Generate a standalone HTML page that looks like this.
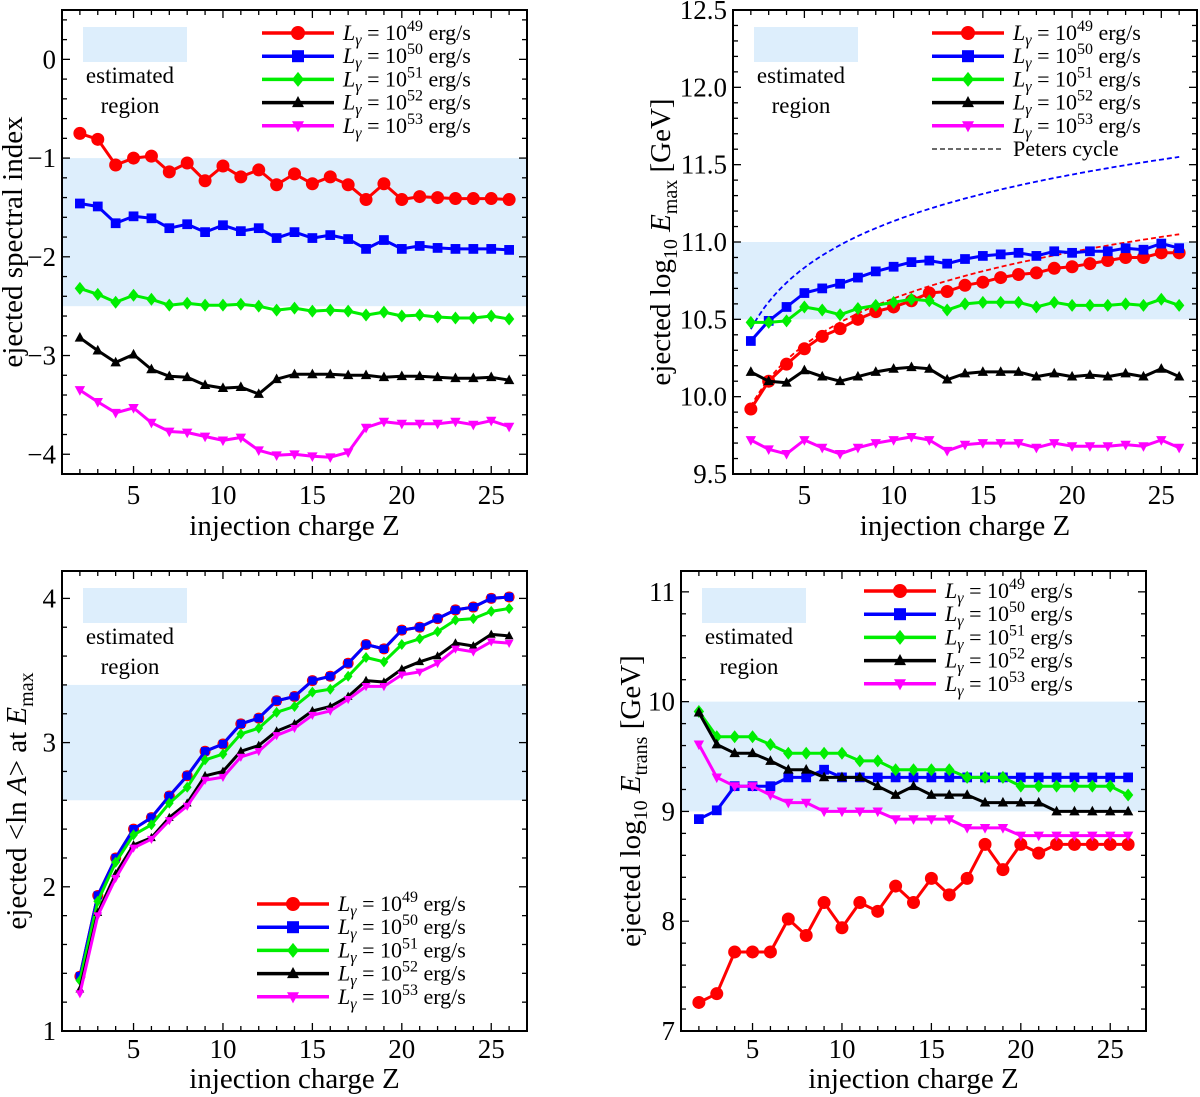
<!DOCTYPE html>
<html><head><meta charset="utf-8">
<style>
html,body{margin:0;padding:0;background:#fff;}
svg{display:block;font-family:"Liberation Serif","DejaVu Serif",serif;}
</style></head>
<body>
<svg id="fig" width="1200" height="1097" viewBox="0 0 1200 1097" xmlns="http://www.w3.org/2000/svg"></svg>
<script>
const zValues = [2,3,4,5,6,7,8,9,10,11,12,13,14,15,16,17,18,19,20,21,22,23,24,25,26];
const seriesLabels = ["49","50","51","52","53"];
// Panel A: spectral index
const idx49 = [-0.75,-0.81,-1.07,-1.0,-0.98,-1.14,-1.05,-1.23,-1.08,-1.19,-1.12,-1.27,-1.16,-1.26,-1.19,-1.27,-1.42,-1.26,-1.42,-1.39,-1.40,-1.41,-1.41,-1.41,-1.42];
const idx50 = [-1.46,-1.49,-1.66,-1.59,-1.61,-1.71,-1.67,-1.75,-1.68,-1.74,-1.71,-1.81,-1.75,-1.81,-1.78,-1.82,-1.92,-1.83,-1.92,-1.89,-1.91,-1.92,-1.92,-1.92,-1.93];
const idx51 = [-2.32,-2.38,-2.46,-2.39,-2.43,-2.49,-2.47,-2.49,-2.49,-2.48,-2.50,-2.54,-2.52,-2.55,-2.54,-2.55,-2.59,-2.56,-2.60,-2.59,-2.61,-2.62,-2.62,-2.60,-2.63];
const idx52 = [-2.82,-2.95,-3.07,-2.99,-3.14,-3.21,-3.22,-3.30,-3.33,-3.32,-3.39,-3.24,-3.19,-3.19,-3.19,-3.20,-3.20,-3.22,-3.21,-3.21,-3.22,-3.23,-3.23,-3.22,-3.25];
const idx53 = [-3.35,-3.47,-3.58,-3.53,-3.68,-3.77,-3.78,-3.82,-3.86,-3.83,-3.96,-4.01,-4.00,-4.02,-4.03,-3.98,-3.73,-3.67,-3.69,-3.69,-3.69,-3.67,-3.70,-3.66,-3.72];
// Panel B: log10 Emax
const emax49 = [9.92,10.10,10.21,10.31,10.39,10.44,10.50,10.55,10.58,10.62,10.67,10.68,10.72,10.74,10.77,10.79,10.80,10.83,10.84,10.86,10.88,10.90,10.90,10.93,10.93];
const emax50 = [10.36,10.49,10.58,10.67,10.70,10.73,10.77,10.81,10.84,10.87,10.88,10.86,10.89,10.91,10.92,10.93,10.91,10.94,10.93,10.94,10.94,10.96,10.95,10.99,10.96];
const emax51 = [10.48,10.48,10.49,10.58,10.56,10.53,10.57,10.59,10.61,10.63,10.62,10.56,10.60,10.61,10.61,10.61,10.58,10.61,10.59,10.59,10.59,10.60,10.59,10.63,10.59];
const emax52 = [10.16,10.10,10.09,10.17,10.13,10.10,10.13,10.16,10.18,10.19,10.18,10.11,10.15,10.16,10.16,10.16,10.13,10.15,10.13,10.14,10.13,10.15,10.13,10.18,10.13];
const emax53 = [9.72,9.66,9.63,9.72,9.67,9.63,9.67,9.70,9.72,9.74,9.72,9.65,9.69,9.70,9.70,9.70,9.67,9.70,9.68,9.68,9.68,9.69,9.68,9.72,9.67];
const petersBase = [9.635,10.135]; // log10 Emax at Z=1 for red, blue Peters cycle
// Panel C: <ln A>
const lnA49 = [1.38,1.94,2.20,2.40,2.48,2.63,2.77,2.94,2.99,3.13,3.17,3.29,3.32,3.43,3.46,3.55,3.68,3.65,3.78,3.80,3.86,3.92,3.94,4.00,4.01];
const lnA50 = [1.38,1.94,2.20,2.40,2.48,2.63,2.77,2.94,2.99,3.13,3.17,3.29,3.32,3.43,3.46,3.55,3.68,3.65,3.78,3.80,3.86,3.92,3.94,4.00,4.01];
const lnA51 = [1.35,1.90,2.17,2.36,2.43,2.58,2.69,2.88,2.92,3.06,3.10,3.21,3.25,3.35,3.37,3.46,3.59,3.56,3.68,3.72,3.77,3.85,3.86,3.91,3.93];
const lnA52 = [1.29,1.82,2.09,2.29,2.34,2.48,2.58,2.77,2.80,2.94,2.98,3.08,3.13,3.22,3.25,3.32,3.43,3.42,3.51,3.56,3.60,3.69,3.67,3.75,3.74];
const lnA53 = [1.26,1.80,2.06,2.27,2.33,2.46,2.56,2.74,2.76,2.90,2.94,3.05,3.10,3.19,3.22,3.30,3.39,3.39,3.47,3.49,3.55,3.65,3.63,3.70,3.69];
// Panel D: log10 Etrans
const et49 = [7.26,7.34,7.72,7.72,7.72,8.02,7.87,8.17,7.94,8.17,8.09,8.32,8.17,8.39,8.24,8.39,8.70,8.47,8.70,8.62,8.70,8.70,8.70,8.70,8.70];
const et50 = [8.93,9.01,9.23,9.23,9.23,9.31,9.31,9.38,9.31,9.31,9.31,9.31,9.31,9.31,9.31,9.31,9.31,9.31,9.31,9.31,9.31,9.31,9.31,9.31,9.31];
const et51 = [9.91,9.68,9.68,9.68,9.61,9.53,9.53,9.53,9.53,9.46,9.46,9.38,9.38,9.38,9.38,9.31,9.31,9.31,9.23,9.23,9.23,9.23,9.23,9.23,9.15];
const et52 = [9.90,9.61,9.53,9.53,9.46,9.38,9.38,9.31,9.31,9.31,9.23,9.15,9.23,9.15,9.15,9.15,9.08,9.08,9.08,9.08,9.00,9.00,9.00,9.00,9.00];
const et53 = [9.61,9.31,9.23,9.23,9.15,9.08,9.08,9.00,9.00,9.00,9.00,8.93,8.93,8.93,8.93,8.85,8.85,8.85,8.78,8.78,8.78,8.78,8.78,8.78,8.78];

const xTicks = [5,10,15,20,25];
const ticksA = [0,-1,-2,-3,-4];
const ticksB = [9.5,10.0,10.5,11.0,11.5,12.0,12.5];
const ticksC = [1,2,3,4];
const ticksD = [7,8,9,10,11];

const NS="http://www.w3.org/2000/svg";
const svg=document.getElementById('fig');
const colors=["#ff0000","#0000ff","#00ee00","#000000","#ff00ff"];
const markers=["circle","square","diamond","tri","tridown"];

function mk(tag,attrs,parent){const e=document.createElementNS(NS,tag);for(const k in attrs)e.setAttribute(k,attrs[k]);(parent||svg).appendChild(e);return e;}

function marker(g,type,x,y,s,color){
  let e;
  if(type==="circle") e=mk('circle',{cx:x,cy:y,r:s,fill:color},g);
  else if(type==="square") e=mk('rect',{x:x-s,y:y-s,width:2*s,height:2*s,fill:color},g);
  else if(type==="diamond") e=mk('polygon',{points:`${x},${y-s*1.25} ${x+s},${y} ${x},${y+s*1.25} ${x-s},${y}`,fill:color},g);
  else if(type==="tri") e=mk('polygon',{points:`${x},${y-s*1.1} ${x+s},${y+s*0.75} ${x-s},${y+s*0.75}`,fill:color},g);
  else e=mk('polygon',{points:`${x},${y+s*1.1} ${x+s},${y-s*0.75} ${x-s},${y-s*0.75}`,fill:color},g);
  return e;
}

function panel(cfg){
  const g=mk('g',{});
  
  
  const L=cfg.L,R=cfg.R,T=cfg.T,B=cfg.B;
  const sx=v=>L+(v-1)/(27-1)*(R-L);
  const sy=v=>B-(v-cfg.ymin)/(cfg.ymax-cfg.ymin)*(B-T);
  const band=mk('rect',{x:L,y:sy(cfg.band[1]),width:R-L,height:sy(cfg.band[0])-sy(cfg.band[1]),fill:"#ddeefc"},g);
  
  
  const sw=mk('rect',{x:L+21,y:T+cfg.swy,width:104,height:35,fill:"#ddeefc"},g);
  
  
  const t1=mk('text',{x:L+68,y:T+cfg.swy+56,'font-size':23,'text-anchor':'middle'},g);t1.textContent="estimated";
  
  
  const t2=mk('text',{x:L+68,y:T+cfg.swy+86,'font-size':23,'text-anchor':'middle'},g);t2.textContent="region";
  
  
  for(let z=1;z<=27;z++){
    const x=sx(z), len=(z%5===0)?8:5;
    mk('line',{x1:x,y1:B,x2:x,y2:B-len,stroke:"#000","stroke-width":1.3},g);
    mk('line',{x1:x,y1:T,x2:x,y2:T+len,stroke:"#000","stroke-width":1.3},g);
  }
  for(const v of xTicks){
    const t=mk('text',{x:sx(v),y:B+cfg.xlo,'font-size':27,'text-anchor':'middle'},g);t.textContent=String(v);
    
    
  }
  const n=Math.round((cfg.ymax-cfg.ymin)/cfg.minor);
  for(let i=0;i<=n+1;i++){
    const v=Math.ceil(cfg.ymin/cfg.minor-1e-6)*cfg.minor+i*cfg.minor;
    if(v>cfg.ymax+1e-6)break;
    const isMaj=cfg.yt.some(t=>Math.abs(t-v)<1e-6), len=isMaj?8:5, y=sy(v);
    mk('line',{x1:L,y1:y,x2:L+len,y2:y,stroke:"#000","stroke-width":1.3},g);
    mk('line',{x1:R,y1:y,x2:R-len,y2:y,stroke:"#000","stroke-width":1.3},g);
  }
  for(const v of cfg.yt){
    const t=mk('text',{x:L-6,y:sy(v)+9,'font-size':27,'text-anchor':'end'},g);
    t.textContent=cfg.fmt(v);
    
    
  }
  if(cfg.peters){
    const pcol=["#ff0000","#0000ff"];
    cfg.peters.forEach((b,i)=>{
      let d="";for(let z=2;z<=26.001;z+=0.25){d+=(d?"L":"M")+sx(z).toFixed(1)+","+sy(b+Math.log10(z)).toFixed(1);}
      const p=mk('path',{d:d,fill:"none",stroke:pcol[i],"stroke-width":1.8,"stroke-dasharray":"5,3"},g);
      
      
    });
  }
  cfg.series.forEach((ys,i)=>{
    const sg=mk('g',{},g);
    
    
    const pts=zValues.map((z,k)=>sx(z).toFixed(1)+","+sy(ys[k]).toFixed(1)).join(" ");
    mk('polyline',{points:pts,fill:"none",stroke:colors[i],"stroke-width":3,"stroke-linejoin":"round"},sg);
    const ms=[cfg.ms,cfg.ms*0.75,cfg.ms*0.8,cfg.ms*0.8,cfg.ms*0.8][i];
    zValues.forEach((z,k)=>{
      const m=marker(sg,markers[i],sx(z),sy(ys[k]),ms,colors[i]);
      
      
    });
  });
  mk('rect',{x:L,y:T,width:R-L,height:B-T,fill:"none",stroke:"#000","stroke-width":2},g);
  const lg=mk('g',{},g);
  
  
  seriesLabels.forEach((lab,i)=>{
    const y=cfg.legY+i*23.2, x0=cfg.legX;
    const row=mk('g',{},lg);
    
    
    mk('line',{x1:x0,y1:y,x2:x0+72,y2:y,stroke:colors[i],"stroke-width":3.5},row);
    marker(row,markers[i],x0+36,y,i===0?7:6,colors[i]);
    const t=mk('text',{x:x0+81,y:y+7,'font-size':22},row);
    t.innerHTML='<tspan font-style="italic">L</tspan><tspan font-style="italic" font-size="16" dy="5">γ</tspan><tspan dy="-5"> = 10</tspan><tspan font-size="16" dy="-9">'+lab+'</tspan><tspan dy="9"> erg/s</tspan>';
  });
  if(cfg.peters){
    const y=cfg.legY+5*23.2;
    const row=mk('g',{},lg);
    
    
    mk('line',{x1:cfg.legX,y1:y,x2:cfg.legX+72,y2:y,stroke:"#555","stroke-width":1.8,"stroke-dasharray":"5,3"},row);
    const t=mk('text',{x:cfg.legX+81,y:y+7,'font-size':22},row);t.textContent="Peters cycle";
  }
  const xt=mk('text',{x:(L+R)/2,y:B+cfg.xto,'font-size':29,'text-anchor':'middle'},g);
  xt.textContent="injection charge Z";
  
  
  const cy=(T+B)/2;
  const yt=mk('text',{x:cfg.ytx,y:cy,'font-size':29,'text-anchor':'middle',transform:`rotate(-90 ${cfg.ytx} ${cy})`},g);
  yt.innerHTML=cfg.ytitle;
  
  
}
const minus=v=>(v<0?"\u2212"+Math.abs(v):String(v));
panel({name:'panel-spectral-index',L:62,R:527,T:10,B:474,ymin:-4.2,ymax:0.5,minor:0.2,yt:ticksA,fmt:minus,
  band:[-2.5,-1],swy:17,series:[idx49,idx50,idx51,idx52,idx53],ms:6.5,legX:262,legY:33,ytx:22,xlo:30,xto:61,
  ytitle:'ejected spectral index'});
panel({name:'panel-emax',L:733,R:1197,T:10,B:474,ymin:9.5,ymax:12.5,minor:0.1,yt:ticksB,fmt:v=>v.toFixed(1),
  band:[10.5,11.0],swy:17,series:[emax49,emax50,emax51,emax52,emax53],ms:6.5,legX:932,legY:33,ytx:670,xlo:30,xto:61,peters:petersBase,
  ytitle:'ejected log<tspan font-size="20" dy="7">10</tspan><tspan dy="-7"> </tspan><tspan font-style="italic">E</tspan><tspan font-size="20" dy="7">max</tspan><tspan dy="-7"> [GeV]</tspan>'});
panel({name:'panel-lnA',L:62,R:527,T:571,B:1031,ymin:1,ymax:4.19,minor:0.2,yt:ticksC,fmt:v=>String(v),
  band:[2.6,3.4],swy:17,series:[lnA49,lnA50,lnA51,lnA52,lnA53],ms:5.5,legX:257,legY:904,ytx:26,xlo:27,xto:57,
  ytitle:'ejected &lt;ln <tspan font-style="italic">A</tspan>&gt; at <tspan font-style="italic">E</tspan><tspan font-size="20" dy="7">max</tspan>'});
panel({name:'panel-etrans',L:681,R:1146,T:571,B:1031,ymin:7,ymax:11.19,minor:0.2,yt:ticksD,fmt:v=>String(v),
  band:[9,10],swy:17,series:[et49,et50,et51,et52,et53],ms:6.5,legX:864,legY:591,ytx:640,xlo:27,xto:57,
  ytitle:'ejected log<tspan font-size="20" dy="7">10</tspan><tspan dy="-7"> </tspan><tspan font-style="italic">E</tspan><tspan font-size="20" dy="7">trans</tspan><tspan dy="-7"> [GeV]</tspan>'});
</script>
</body></html>
